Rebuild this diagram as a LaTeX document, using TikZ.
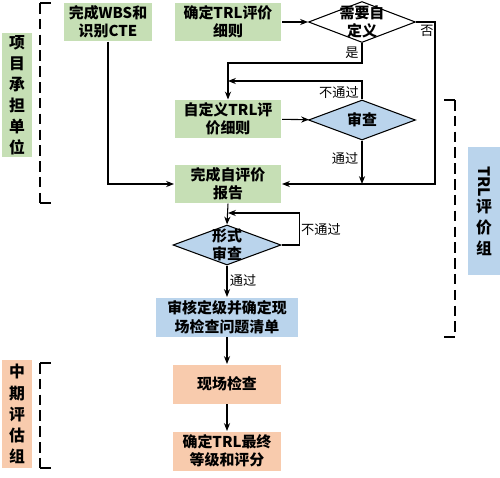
\documentclass[tikz,border=0pt]{standalone}
\usepackage{fontspec}
\setmainfont{Noto Sans CJK SC}
\usetikzlibrary{shapes.geometric,arrows.meta}
\definecolor{gruen}{HTML}{C6DFB5}
\definecolor{blau}{HTML}{BAD4EC}
\definecolor{lachs}{HTML}{F8CBAD}
\tikzset{
	kasten/.style={inner sep=0pt,align=center,font=\fontsize{8.5}{10.5}\selectfont\bfseries},
	raute/.style={diamond,draw,inner sep=0pt,minimum width=2.14cm,minimum height=0.82cm},
	klein/.style={font=\fontsize{7.5}{9}\selectfont},
	gruppe/.style={inner sep=0pt,align=center,font=\fontsize{9}{12}\selectfont\bfseries},
	pfeil/.style={-{Stealth[length=4.5pt,width=3.5pt]}},
	klammer/.style={dash pattern=on 6pt off 3pt}
}
\begin{document}
\begin{tikzpicture}[x=0.02cm,y=-0.02cm,line width=0.6pt]
		\useasboundingbox (0,0) rectangle (500,477);
		% Gruppen
		\node[gruppe,fill=gruen,minimum width=0.6cm,minimum height=2.48cm] (gA) at (17,95) {项\\目\\承\\担\\单\\位};
		\node[gruppe,fill=lachs,minimum width=0.6cm,minimum height=2.16cm] (gC) at (17,414) {中\\期\\评\\估\\组};
		\node[gruppe,fill=blau,minimum width=0.66cm,minimum height=2.56cm] (gB) at (484,211) {\rotatebox{-90}{TRL}\\评\\价\\组};
		% Klammern
		\draw[klammer] (40,3) -- (40,203);
		\draw (40,3) -- (51,3) (40,203) -- (51,203);
		\draw[klammer] (40,363) -- (40,468);
		\draw (40,363) -- (51,363) (40,468) -- (51,468);
		\draw[klammer] (455,100) -- (455,337);
		\draw (444,100) -- (455,100) (444,337) -- (455,337);
		% Kästen
		\node[kasten,fill=gruen,minimum width=1.78cm,minimum height=0.76cm] (wbs) at (108,22) {完成WBS和\\识别CTE};
		\node[kasten,fill=gruen,minimum width=2.14cm,minimum height=0.76cm] (trl) at (228,22) {确定TRL评价\\细则};
		\node[kasten,fill=gruen,minimum width=2.14cm,minimum height=0.76cm] (self) at (228,119) {自定义TRL评\\价细则};
		\node[kasten,fill=gruen,minimum width=2.14cm,minimum height=0.76cm] (rep) at (228,184) {完成自评价\\报告};
		\node[kasten,fill=blau,minimum width=2.84cm,minimum height=0.78cm] (chk) at (227,317) {审核定级并确定现\\场检查问题清单};
		\node[kasten,fill=lachs,minimum width=2.16cm,minimum height=0.78cm] (site) at (227,384) {现场检查};
		\node[kasten,fill=lachs,minimum width=2.16cm,minimum height=0.78cm] (fin) at (227,451) {确定TRL最终\\等级和评分};
		% Rauten
		\node[raute,fill=white,label={[kasten]center:需要自\\定义}] (need) at (362,22) {};
		\node[raute,fill=blau,minimum height=0.8cm,label={[kasten]center:审查}] (rev) at (362,120) {};
		\node[raute,fill=blau,minimum width=2.16cm,minimum height=0.8cm,label={[kasten]center:形式\\审查}] (form) at (227,245) {};
		% Hilfspunkte
		\coordinate (m1) at (228,81);
		\coordinate (m2) at (362,184);
		\coordinate (m3) at (228,213);
		% Pfeile
		\draw[pfeil] (wbs) |- (rep);
		\draw[pfeil] (trl) -- (need);
		\draw[pfeil] (need.south) -- ++(0,20) -| (self.north);
		\draw[pfeil] (rev.north) |- (m1);
		\draw[pfeil] (self) -- (rev);
		\draw[pfeil] (rev.south) -- (m2);
		\draw[pfeil] (need.east) -- ++(19,0) |- (rep.east);
		\draw[pfeil] (rep.south) -- (form.north);
		\draw[pfeil] (form.east) -- ++(18,0) |- (m3);
		\draw[pfeil] (form.south) -- (chk.north);
		\draw[pfeil] (chk) -- (site);
		\draw[pfeil] (site) -- (fin);
		% Beschriftungen
		\node[klein] (ja) at (352,53) {是};
		\node[klein] (nein) at (427,31) {否};
		\node[klein] (nicht1) at (339,92) {不通过};
		\node[klein] (durch1) at (345,158) {通过};
		\node[klein] (nicht2) at (321,229) {不通过};
		\node[klein] (durch2) at (243,280) {通过};
	\end{tikzpicture}
\end{document}
